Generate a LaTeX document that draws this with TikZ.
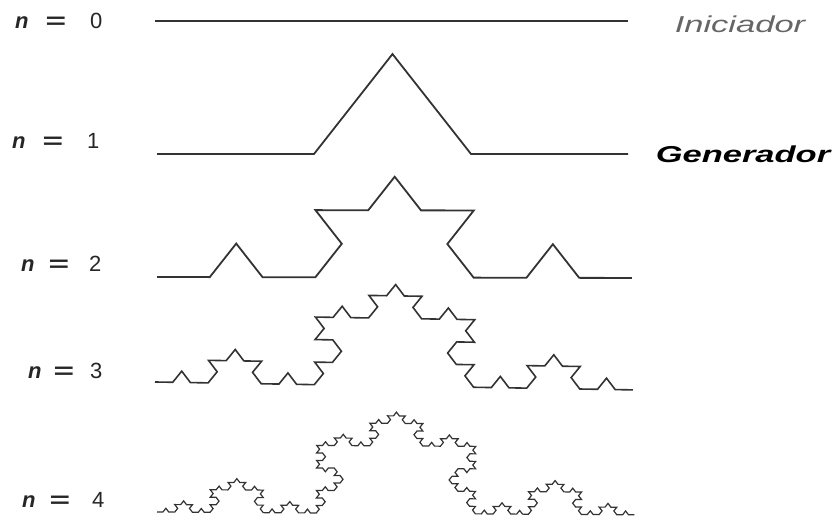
\documentclass[tikz,border=0pt]{standalone}
\usepackage{fontspec}
\setmainfont{Liberation Sans}
\usetikzlibrary{lindenmayersystems}

\pgfdeclarelindenmayersystem{Koch}{
  \rule{F -> F+F--F+F}
}

\newcommand{\eqsign}{\scalebox{1.6}[1]{\textbf{=}}}

\begin{document}
\begin{tikzpicture}[x=1pt, y=1pt,
  curve/.style={draw=black!80, line join=miter},
  lbl/.style={font=\fontsize{22}{24}\selectfont, anchor=west, inner sep=0pt, text=black!85},
  tag/.style={font=\fontsize{23}{25}\selectfont\itshape, xscale=1.5, transform shape, inner sep=0pt}]
\useasboundingbox (0,0) rectangle (835,521);

% levels of the curve: order / start / end / line width
\foreach \n/\xa/\ya/\xb/\yb/\lw in {0/155/500/628/500/1.8, 1/157/367/628/367/1.8,
    2/157/244/632/243/1.8, 3/155/139/633/131/1.6, 4/157/9/635/6/1.2}{
  \pgfmathsetmacro{\len}{veclen(\xb-\xa,\yb-\ya)}
  \pgfmathsetmacro{\ang}{atan2(\yb-\ya,\xb-\xa)}
  \pgfmathsetmacro{\stp}{\len/3^\n}
  \begin{scope}[shift={(\xa,\ya)}, rotate=\ang, yscale=0.735]
    \draw[curve, line width=\lw pt]
      [l-system={Koch, axiom=F, order=\n, step=\stp pt, angle=60}] lindenmayer system;
  \end{scope}
}

\node[lbl] (n0) at (15,500) {\textbf{\textit{n}}\hspace{17pt}\eqsign\hspace{24pt}0};
\node[lbl] (n1) at (12,380) {\textbf{\textit{n}}\hspace{17pt}\eqsign\hspace{24pt}1};
\node[lbl] (n2) at (21,257) {\textbf{\textit{n}}\hspace{14pt}\eqsign\hspace{20pt}2};
\node[lbl] (n3) at (28,150) {\textbf{\textit{n}}\hspace{12pt}\eqsign\hspace{16pt}3};
\node[lbl] (n4) at (22,21) {\textbf{\textit{n}}\hspace{14pt}\eqsign\hspace{22pt}4};

\node[tag, text=black!60] (ini) at (740,497) {Iniciador};
\node[tag, font=\fontsize{23}{25}\selectfont\bfseries\itshape] (gen) at (743,367) {Generador};
\end{tikzpicture}
\end{document}
